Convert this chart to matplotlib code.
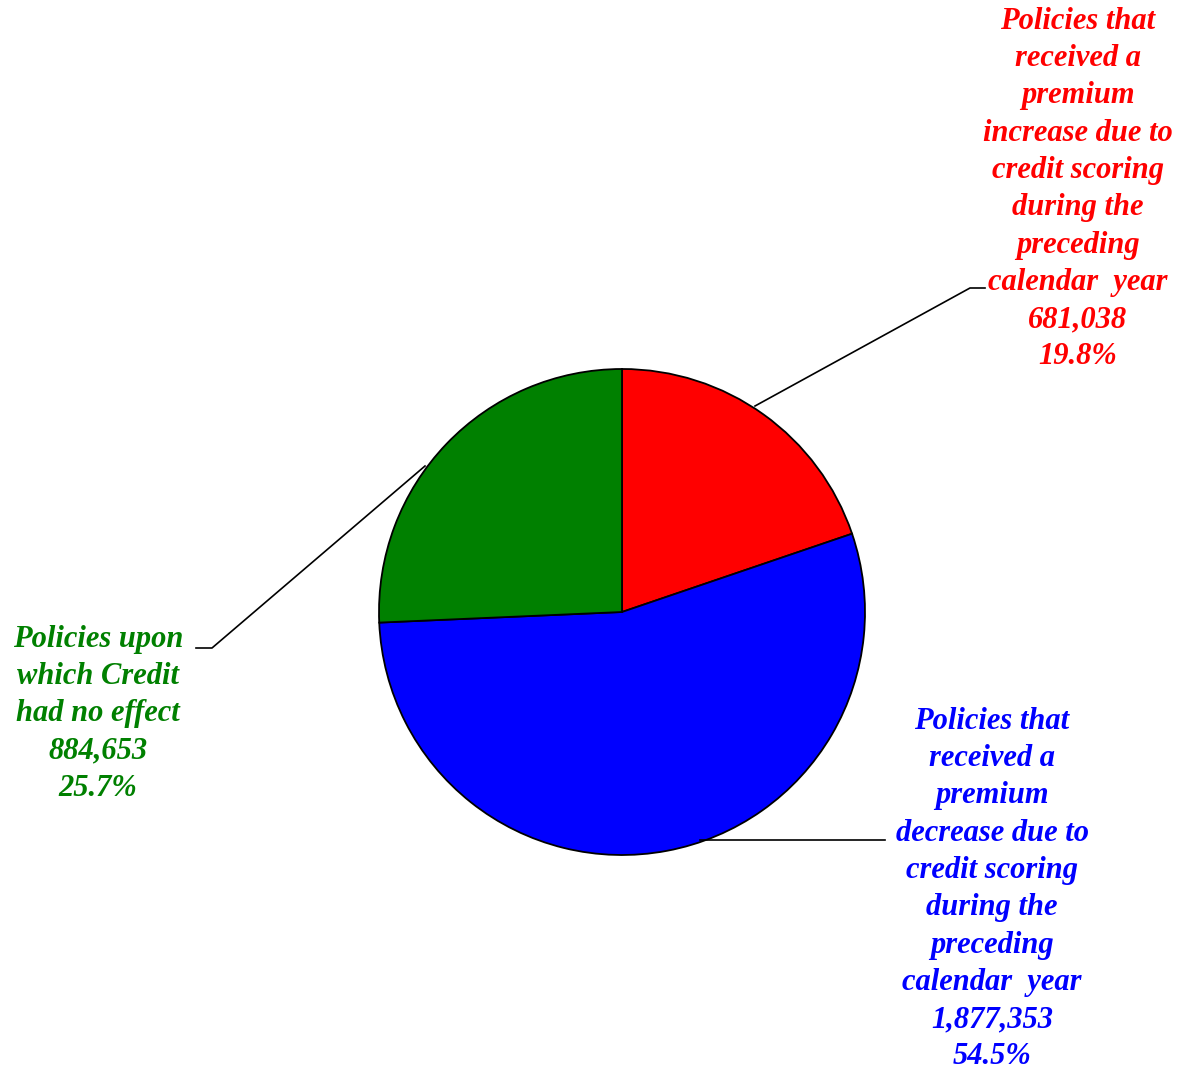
import numpy as np
import matplotlib.pyplot as plt

labels = ["Policies that\nreceived a\npremium\nincrease due to\ncredit scoring\nduring the\npreceding\ncalendar  year",
          "Policies that\nreceived a\npremium\ndecrease due to\ncredit scoring\nduring the\npreceding\ncalendar  year",
          "Policies upon\nwhich Credit\nhad no effect"]
counts = [681038, 1877353, 884653]
pcts = ["19.8%", "54.5%", "25.7%"]
colors = ["#ff0000", "#0000ff", "#008000"]

W, H = 1187, 1069
fig = plt.figure(figsize=(W / 100, H / 100), dpi=100)
ax = fig.add_axes([0, 0, 1, 1])

cx, cy, r = 622, H - 612, 243
ax.pie(counts, colors=colors, startangle=90, counterclock=False,
       center=(cx, cy), radius=r, frame=True,
       wedgeprops=dict(edgecolor="black", linewidth=1.3))
ax.set_xlim(0, W)
ax.set_ylim(0, H)
ax.set_aspect("equal")
ax.axis("off")

font = dict(family="Liberation Serif", weight="bold", style="italic",
            fontsize=22, ha="center", linespacing=1.375)

# leader lines (pixel coords, y from top)
def seg(pts):
    xs = [p[0] for p in pts]
    ys = [H - p[1] for p in pts]
    ax.plot(xs, ys, color="black", lw=1.2)

seg([(755, 406), (970, 288), (985, 288)])
seg([(700, 840), (885, 840)])
seg([(425, 466), (212, 648), (196, 648)])

txt_pos = [(1078, 7), (992, 707), (98, 625)]
for lab, n, p, c, (tx, ty) in zip(labels, counts, pcts, colors, txt_pos):
    s = lab + "\n" + f"{n:,}" + "\n" + p
    ax.text(tx, H - ty, s, color=c, va="top", **font)

fig.savefig("out.png", dpi=100)
